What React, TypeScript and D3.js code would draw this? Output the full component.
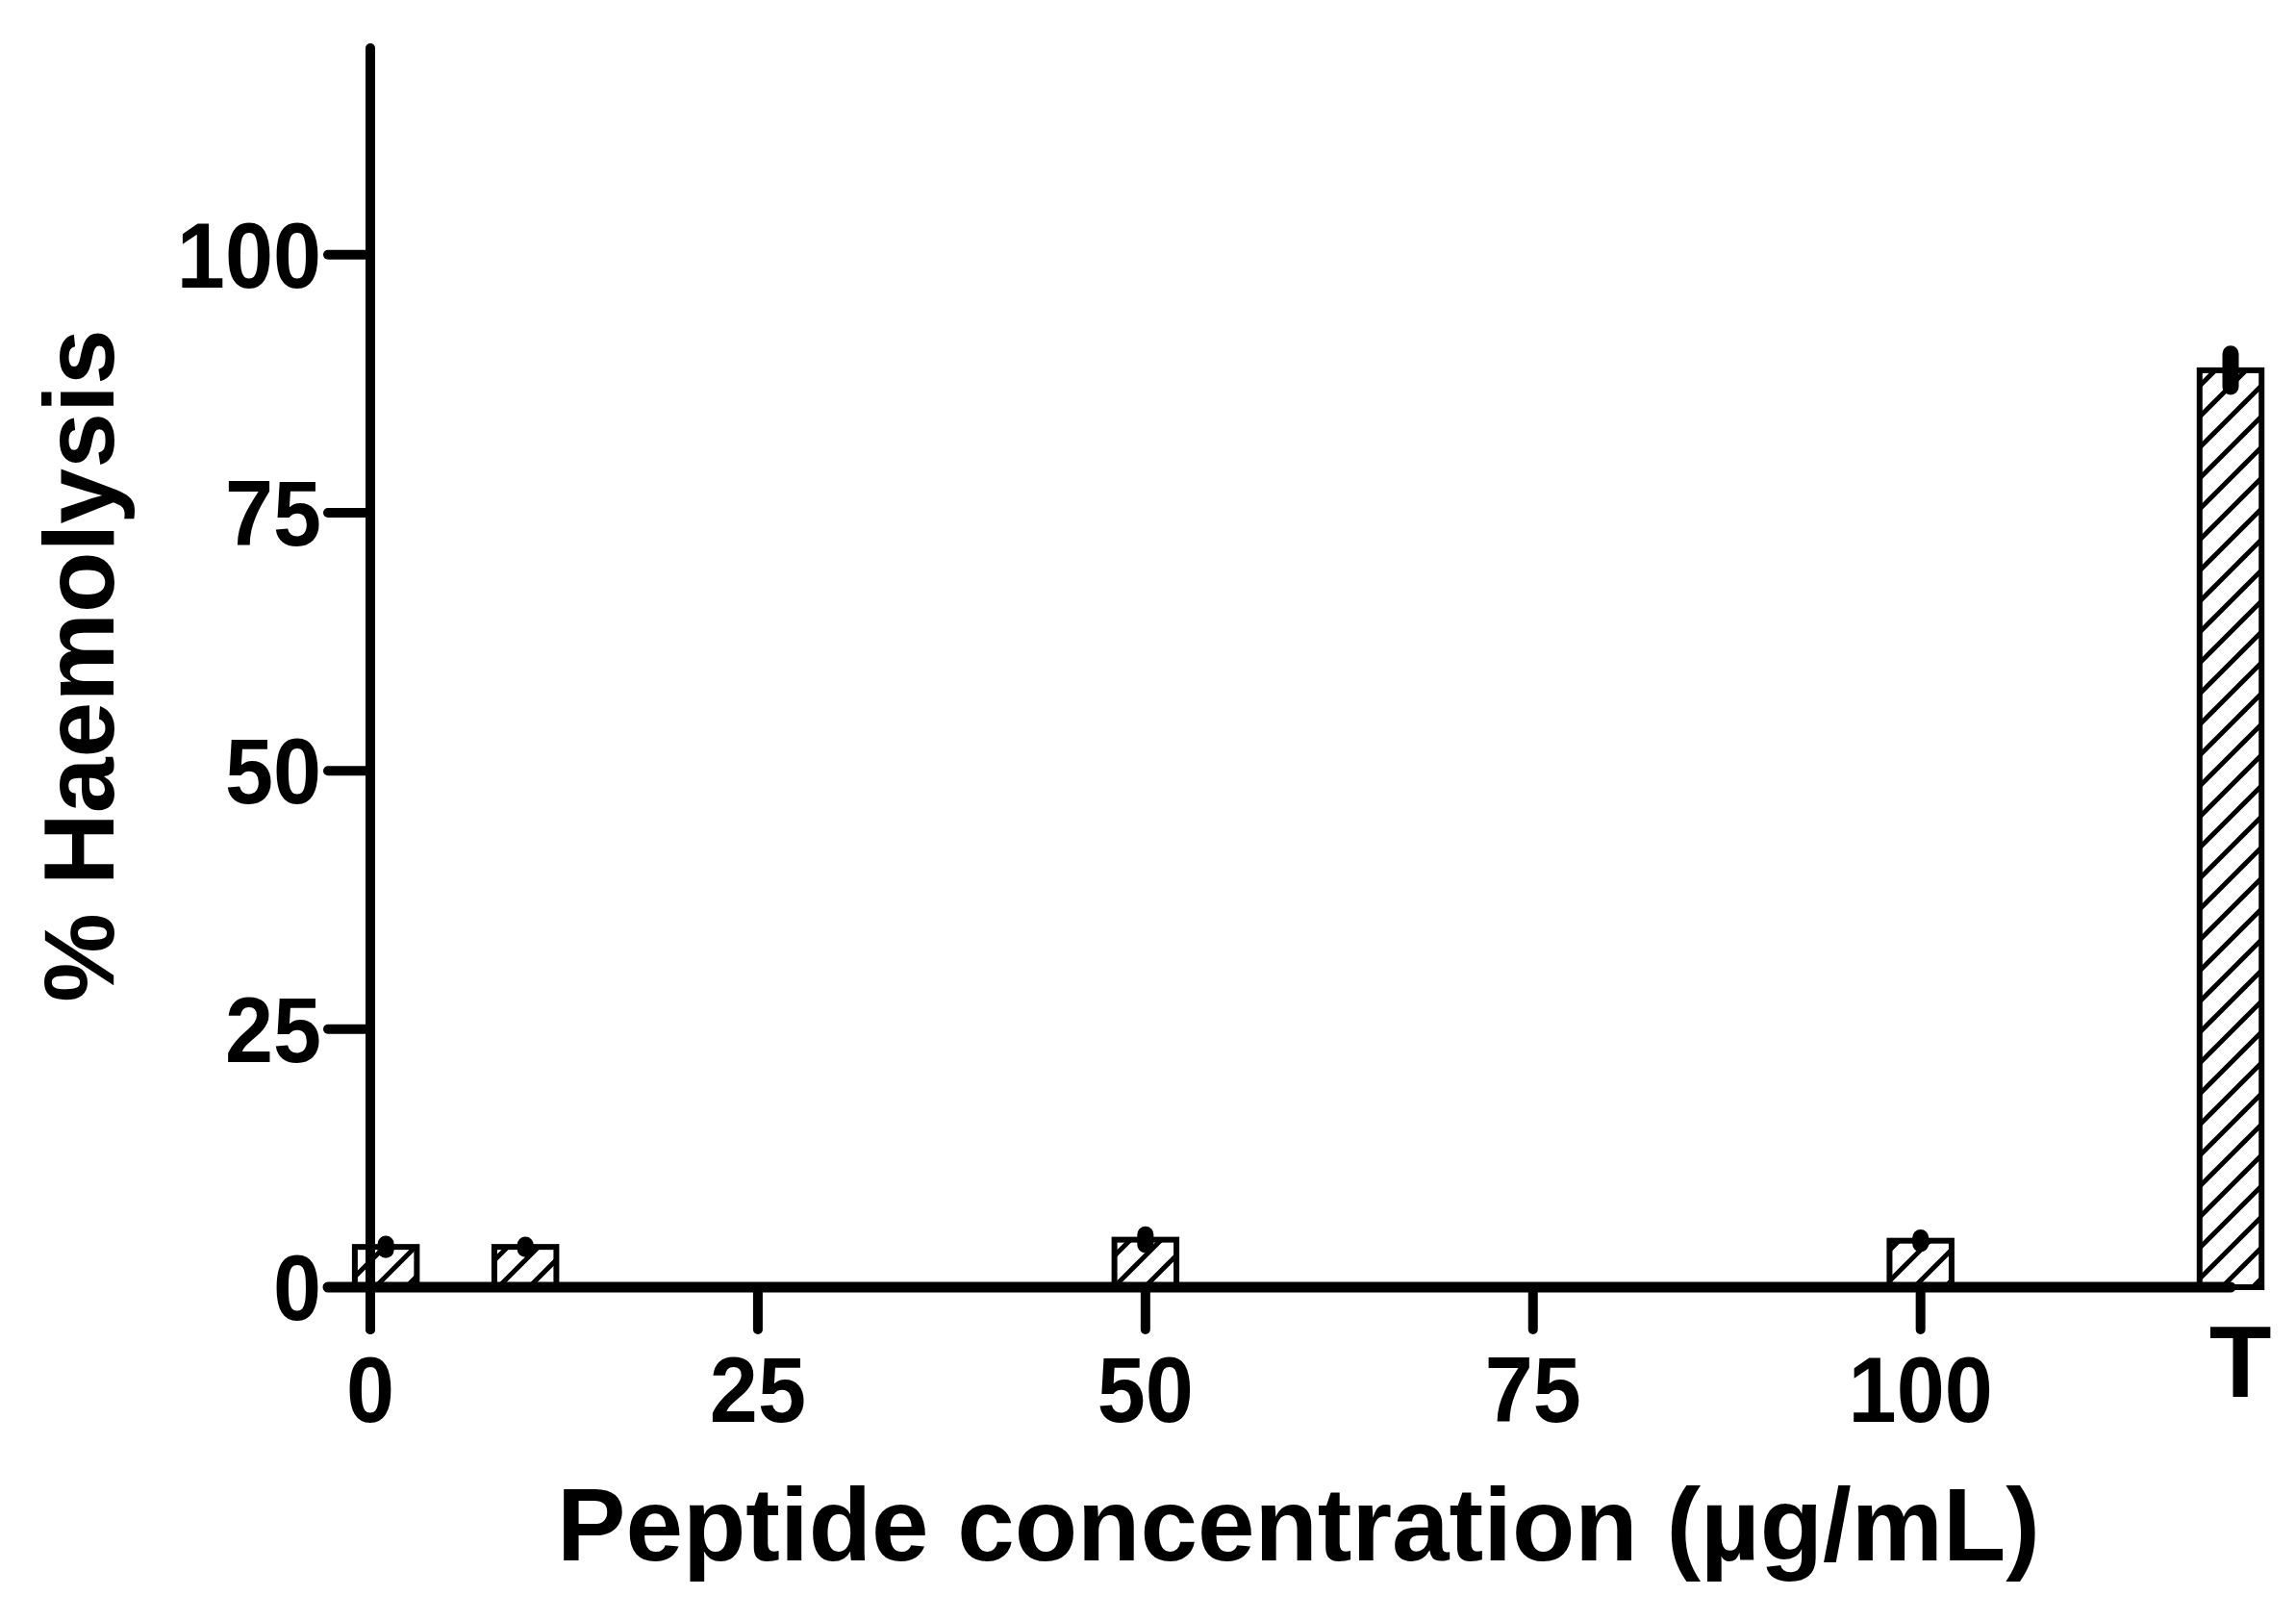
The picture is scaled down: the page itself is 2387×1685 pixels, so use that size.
import * as d3 from "d3"

// measured values (% haemolysis, mean ± sem)
const concentrations = [1, 10, 50, 100]
const haemolysis = [3.9, 3.9, 4.6, 4.5]
const haemolysisSem = [0.3, 0.2, 0.5, 0.3]
const controlLabel = "T"
const controlPosition = 120
const controlMean = 88.8
const controlSem = 1.6

const xTicks = [0, 25, 50, 75, 100]
const yTicks = [0, 25, 50, 75, 100]
const xTitle = "Peptide concentration (µg/mL)"
const yTitle = "% Haemolysis"

const W = 2387
const H = 1685
const FONT = "'Liberation Sans', Arial, sans-serif"

export default function App() {
  const x = d3.scaleLinear().domain([0, 120]).range([385, 2319])
  const y = d3.scaleLinear().domain([0, 120]).range([1338, 50])
  const halfWidth = 2

  const bars = concentrations
    .map((c, i) => ({pos: c, mean: haemolysis[i], sem: haemolysisSem[i]}))
    .concat([{pos: controlPosition, mean: controlMean, sem: controlSem}])

  const tickLen = 44
  // tick digits in the original are drawn a little taller than normal
  const labelStretch = "scale(1,1.08)"

  return (
    <svg
      width={W}
      height={H}
      style={{position: "absolute", left: 0, top: 0, background: "#fff"}}
    >
      <defs>
        <pattern id="hatch" patternUnits="userSpaceOnUse" width={32} height={32}>
          <rect width={32} height={32} fill="#fff" />
          <g stroke="#000" strokeWidth={5}>
            <line x1={0} y1={32} x2={32} y2={0} />
            <line x1={-8} y1={8} x2={8} y2={-8} />
            <line x1={24} y1={40} x2={40} y2={24} />
          </g>
        </pattern>
      </defs>

      {/* bars */}
      {bars.map((d, i) => (
        <rect
          key={i}
          x={x(d.pos - halfWidth)}
          width={x(d.pos + halfWidth) - x(d.pos - halfWidth)}
          y={y(d.mean)}
          height={y(0) - y(d.mean)}
          fill="url(#hatch)"
          stroke="#000"
          strokeWidth={6}
        />
      ))}

      {/* axes */}
      <g stroke="#000" strokeLinecap="round">
        <line x1={x(0)} x2={x(0)} y1={y(120)} y2={y(0) + tickLen} strokeWidth={10} />
        <line x1={x(0) - tickLen} x2={x(controlPosition)} y1={y(0)} y2={y(0)} strokeWidth={11} />
        {yTicks.map((t) => (
          <line key={t} x1={x(0) - tickLen} x2={x(0)} y1={y(t)} y2={y(t)} strokeWidth={10} />
        ))}
        {xTicks.map((t) => (
          <line key={t} x1={x(t)} x2={x(t)} y1={y(0)} y2={y(0) + tickLen} strokeWidth={10} />
        ))}
      </g>

      {/* error bars */}
      <g stroke="#000" strokeLinecap="round" strokeWidth={17}>
        {bars.map((d, i) => (
          <line
            key={i}
            x1={x(d.pos)}
            x2={x(d.pos)}
            y1={y(d.mean - d.sem)}
            y2={y(d.mean + d.sem)}
          />
        ))}
      </g>

      {/* tick labels */}
      <g fontFamily={FONT} fontWeight="bold" fontSize={90} fill="#000">
        {yTicks.map((t) => (
          <text
            key={t}
            transform={`translate(${x(0) - 51},${y(t) + 34}) ${labelStretch}`}
            textAnchor="end"
          >
            {t}
          </text>
        ))}
        {xTicks.map((t) => (
          <text
            key={t}
            transform={`translate(${x(t)},${1478}) ${labelStretch}`}
            textAnchor="middle"
          >
            {t}
          </text>
        ))}
      </g>
      <text
        x={x(controlPosition) + 10}
        y={1452}
        fontFamily={FONT}
        fontWeight="bold"
        fontSize={106}
        textAnchor="middle"
      >
        {controlLabel}
      </text>

      {/* titles */}
      <text
        x={1350}
        y={1622}
        fontFamily={FONT}
        fontWeight="bold"
        fontSize={107}
        textAnchor="middle"
      >
        {xTitle}
      </text>
      <text
        transform={`translate(118,692) rotate(-90)`}
        fontFamily={FONT}
        fontWeight="bold"
        fontSize={104}
        textAnchor="middle"
      >
        {yTitle}
      </text>
    </svg>
  )
}
